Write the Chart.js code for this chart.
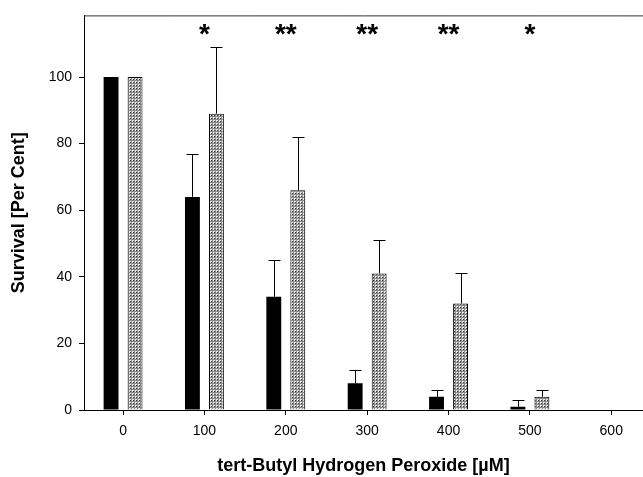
<html>
<head>
  <script src="https://cdn.jsdelivr.net/npm/chart.js@4.4.0/dist/chart.umd.min.js"></script>
  <style>
    body { margin: 0; background: #fff; }
  </style>
</head>
<body>
  <canvas id="chart" width="643" height="477"></canvas>

  <script>
    // data
    var doses = [0, 100, 200, 300, 400, 500];
    var controlMean = [100, 64, 34, 8, 4, 1];
    var controlUpper = [100, 77, 45, 12, 6, 3];
    var treatedMean = [100, 89, 66, 41, 32, 4];
    var treatedUpper = [100, 109, 82, 51, 41, 6];
    var stars = ["", "*", "**", "**", "**", "*"];
    var starLevel = 113.5;
    var xTicks = [0, 100, 200, 300, 400, 500, 600];
    var yTicks = [0, 20, 40, 60, 80, 100];

    // dotted gray fill
    function dotPattern() {
      var c = document.createElement("canvas");
      c.width = 3; c.height = 3;
      var g = c.getContext("2d");
      g.fillStyle = "#8a8a8a";
      g.fillRect(0, 0, 3, 3);
      g.fillStyle = "#e6e6e6";
      g.fillRect(0, 0, 2, 2);
      g.fillStyle = "#333";
      g.fillRect(1, 1, 1, 1);
      return document.createElement("canvas").getContext("2d").createPattern(c, "repeat");
    }

    var errorBars = {
      id: "errorBars",
      afterDatasetsDraw: function(chart) {
        var ctx = chart.ctx;
        var y = chart.scales.y;
        var uppers = [controlUpper, treatedUpper];
        var means = [controlMean, treatedMean];
        ctx.save();
        ctx.strokeStyle = "#000";
        ctx.lineWidth = 1;
        chart.data.datasets.forEach(function(ds, d) {
          var meta = chart.getDatasetMeta(d);
          meta.data.forEach(function(bar, i) {
            if (uppers[d][i] <= means[d][i]) return;
            var x = Math.round(bar.x) + 0.5;
            var yTop = Math.round(y.getPixelForValue(uppers[d][i])) + 0.5;
            ctx.beginPath();
            ctx.moveTo(x, bar.y);
            ctx.lineTo(x, yTop);
            ctx.moveTo(x - 6, yTop);
            ctx.lineTo(x + 6, yTop);
            ctx.stroke();
          });
        });
        // significance marks
        ctx.fillStyle = "#000";
        ctx.font = "bold 28px 'Liberation Sans', Arial";
        ctx.textAlign = "center";
        ctx.textBaseline = "alphabetic";
        for (var i = 0; i < doses.length; i++) {
          if (!stars[i]) continue;
          var px = chart.scales.x.getPixelForValue(doses[i]);
          ctx.fillText(stars[i], px, y.getPixelForValue(starLevel) + 11);
        }
        // frame top
        var a = chart.chartArea;
        ctx.strokeStyle = "#333";
        ctx.beginPath();
        ctx.moveTo(a.left, a.top + 0.5);
        ctx.lineTo(a.right, a.top + 0.5);
        ctx.stroke();
        ctx.restore();
      }
    };

    var ctx = document.getElementById("chart").getContext("2d");
    var chart = new Chart(ctx, {
      type: "bar",
      data: {
        datasets: [
          {
            label: "control",
            data: doses.map(function(d, i) { return { x: d, y: controlMean[i] }; }),
            backgroundColor: "#000",
            borderColor: "#000",
            borderWidth: 0
          },
          {
            label: "treated",
            data: doses.map(function(d, i) { return { x: d, y: treatedMean[i] }; }),
            backgroundColor: dotPattern(),
            borderColor: "#000",
            borderWidth: 1
          }
        ]
      },
      plugins: [errorBars],
      options: {
        responsive: false,
        maintainAspectRatio: false,
        animation: false,
        categoryPercentage: 0.59,
        barPercentage: 0.62,
        layout: { padding: { top: 14, right: 0, left: 0, bottom: 0 } },
        plugins: {
          legend: { display: false },
          tooltip: { enabled: false }
        },
        scales: {
          x: {
            type: "linear",
            min: -48,
            max: 639,
            offset: false,
            afterBuildTicks: function(scale) {
              scale.ticks = xTicks.map(function(v) { return { value: v }; });
            },
            afterFit: function(scale) { scale.height = 67; },
            grid: { offset: false, drawOnChartArea: false, tickLength: 5, color: "#000" },
            border: { color: "#000", width: 1 },
            ticks: {
              color: "#000",
              padding: 8,
              maxRotation: 0,
              font: { family: "'Liberation Sans', Arial", size: 14 }
            },
            title: {
              display: true,
              text: "tert-Butyl Hydrogen Peroxide [\u00b5M]",
              color: "#000",
              padding: { top: 0, bottom: 0 },
              font: { family: "'Liberation Sans', Arial", size: 18, weight: "bold" }
            }
          },
          y: {
            min: 0,
            max: 118.5,
            afterBuildTicks: function(scale) {
              scale.ticks = yTicks.map(function(v) { return { value: v }; });
            },
            afterFit: function(scale) { scale.width = 84; },
            grid: { drawOnChartArea: false, tickLength: 5, color: "#000" },
            border: { color: "#000", width: 1 },
            ticks: {
              color: "#000",
              padding: 7,
              font: { family: "'Liberation Sans', Arial", size: 14 }
            },
            title: {
              display: true,
              text: "Survival [Per Cent]",
              color: "#000",
              padding: { top: 8, bottom: 0 },
              font: { family: "'Liberation Sans', Arial", size: 18, weight: "bold" }
            }
          }
        }
      }
    });
  </script>
</body>
</html>
